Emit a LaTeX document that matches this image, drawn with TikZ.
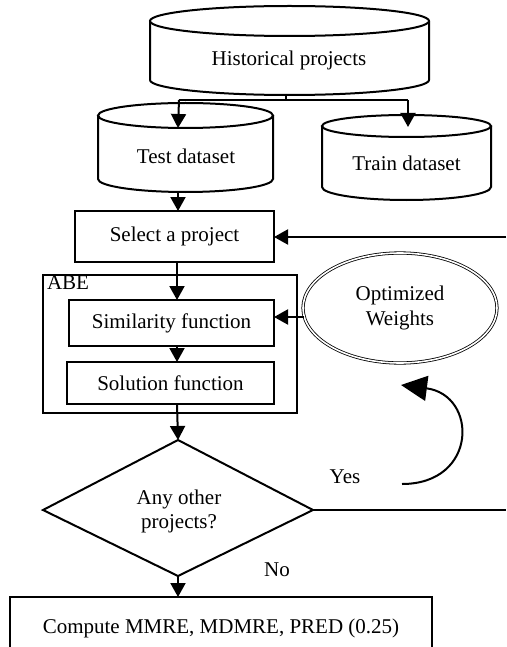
\documentclass[tikz,border=0pt]{standalone}
\usepackage{fontspec}
\setmainfont{Liberation Serif}
\usetikzlibrary{arrows.meta,calc,shapes.geometric}
\newcommand\flowfont{\fontsize{21}{25}\selectfont}
\begin{document}
\begin{tikzpicture}[x=1pt,y=1pt,
  line width=2pt,
  every node/.style={font=\flowfont,inner sep=0pt,outer sep=0pt},
  box/.style={draw,line width=2pt,rectangle},
  arr/.style={-{Triangle[length=14pt,width=15pt]}},
  bigarr/.style={-{Triangle[length=26pt,width=25pt]}},
  thinline/.style={line width=1.3pt}]
\useasboundingbox (0,0) rectangle (506,-647);
\clip (0,0) rectangle (506,-647);

% storage cylinders
\draw (150,-21) -- (150,-80) arc[start angle=180,end angle=360,x radius=139.5,y radius=15] -- (429,-21);
\draw (289.5,-21) ellipse[x radius=139.5,y radius=15];
\node (hist) at (289,-60) {Historical projects};
\coordinate (histbot) at (286,-94);

\draw (98,-115.5) -- (98,-179) arc[start angle=180,end angle=360,x radius=87.5,y radius=13] -- (273,-115.5);
\draw (185.5,-115.5) ellipse[x radius=87.5,y radius=12.5];
\node (test) at (186,-156) {Test dataset};
\coordinate (testtop) at (178,-128);
\coordinate (testbot) at (178,-192);

\draw (322,-126) -- (322,-187) arc[start angle=180,end angle=360,x radius=84.5,y radius=13] -- (491,-126);
\draw (406.5,-126) ellipse[x radius=84.5,y radius=11];
\node (train) at (406.5,-163) {Train dataset};
\coordinate (traintop) at (408,-127);

% split of the historical data
\coordinate (split) at (286,-100);
\draw (histbot) -- (split);
\draw (179,-100) -- (408,-100);
\draw[arr] (179,-100) -- (testtop);
\draw[arr] (408,-100) -- (traintop);

% estimation loop
\coordinate (spine) at (177,0);
\node[box,minimum width=199pt,minimum height=51pt] (sel) at (174.5,-236.5) {Select a project};
\draw[arr] (testbot) -- (sel.north -| testbot);

\node[box,minimum width=254pt,minimum height=138pt] (abe) at (170,-344) {};
\node[anchor=north west] (abelabel) at (47,-276) {ABE};
\node[box,minimum width=205pt,minimum height=46pt] (sim) at (171.5,-323) {Similarity function};
\node[box,minimum width=207pt,minimum height=42pt] (sol) at (170.5,-383) {Solution function};

\draw[arr] (sel.south -| spine) -- (sim.north -| spine);
\draw[arr] (sim.south -| spine) -- (sol.north -| spine);

\node[draw,ellipse,double,double distance=1.6pt,line width=0.8pt,
      minimum width=194pt,minimum height=110pt,align=center] (ow) at (400,-308)
      {Optimized\\[-0.5pt]Weights};
\draw[arr] ([xshift=1pt,yshift=-9pt]ow.west) -- ([yshift=6pt]sim.east);

% decision
\coordinate (dtop) at (178,-440);
\coordinate (dbot) at (178,-576);
\coordinate (dleft) at (43,-510);
\coordinate (dright) at (313,-510);
\draw (dtop) -- (dright) -- (dbot) -- (dleft) -- cycle;
\node[align=center] (dec) at (179,-511) {Any other\\[-1pt]projects?};
\draw[arr] (sol.south -| spine) -- (dtop);

\coordinate (loopend) at (506,-510);
\coordinate (loopin) at (506,-237);
\draw[thinline] (dright) -- (loopend);
\draw[arr] (loopin) -- (sel.east |- loopin);

\coordinate (yesstart) at (402,-484);
\coordinate (yestip) at (401,-385);
\draw[bigarr] (yesstart) .. controls (478,-484) and (478,-395) .. (yestip);
\node (yes) at (345,-477) {Yes};
\node (no) at (277,-570) {No};

% results
\draw[box] (10,-597) rectangle (432,-700);
\node (comp) at (221,-628) {Compute MMRE, MDMRE, PRED (0.25)};
\draw[arr] (dbot) -- (178,-597);
\end{tikzpicture}
\end{document}
